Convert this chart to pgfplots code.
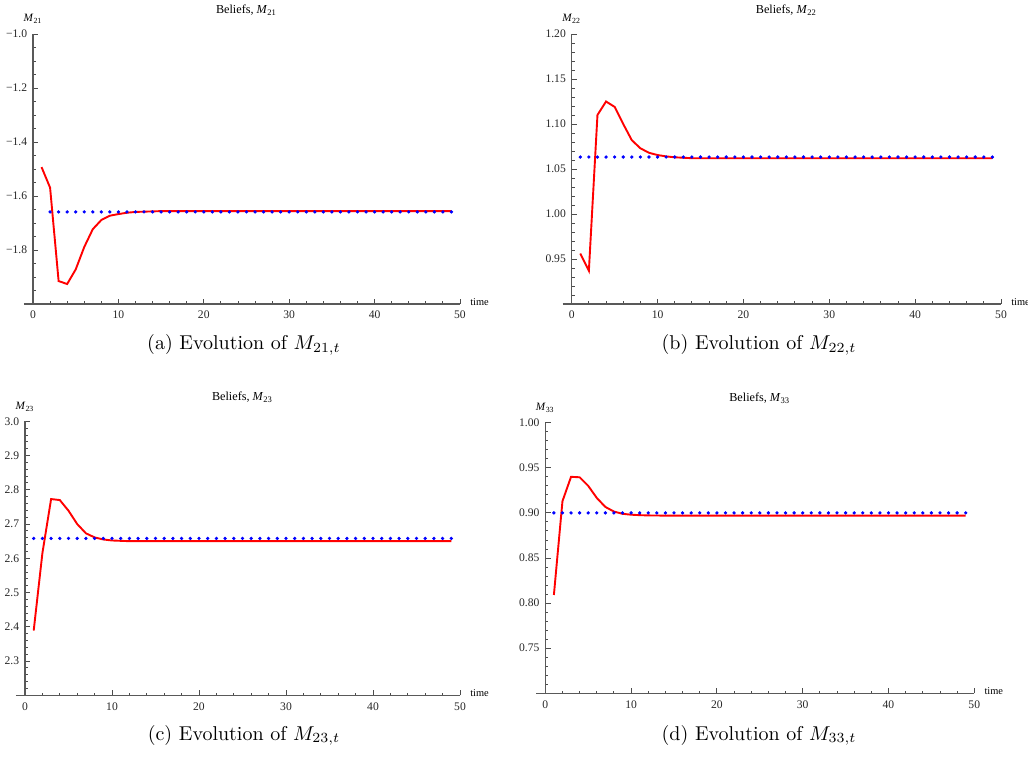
\documentclass[border=0pt]{standalone}
\usepackage{fontspec}
\usepackage{pgfplots}
\usepackage{pgfplotstable}
\pgfplotsset{compat=1.18}
\newfontfamily\tms{Liberation Serif}

\pgfplotstableread{
t m b
1 -1.493 nan
2 -1.569 -1.659
3 -1.915 -1.659
4 -1.926 -1.659
5 -1.872 -1.659
6 -1.789 -1.659
7 -1.723 -1.659
8 -1.689 -1.659
9 -1.673 -1.659
10 -1.667 -1.659
11 -1.662 -1.659
12 -1.659 -1.659
13 -1.658 -1.659
14 -1.657 -1.659
15 -1.656 -1.659
16 -1.656 -1.659
17 -1.656 -1.659
18 -1.656 -1.659
19 -1.656 -1.659
20 -1.656 -1.659
21 -1.656 -1.659
22 -1.656 -1.659
23 -1.656 -1.659
24 -1.656 -1.659
25 -1.656 -1.659
26 -1.656 -1.659
27 -1.656 -1.659
28 -1.656 -1.659
29 -1.656 -1.659
30 -1.656 -1.659
31 -1.656 -1.659
32 -1.656 -1.659
33 -1.656 -1.659
34 -1.656 -1.659
35 -1.656 -1.659
36 -1.656 -1.659
37 -1.656 -1.659
38 -1.656 -1.659
39 -1.656 -1.659
40 -1.656 -1.659
41 -1.656 -1.659
42 -1.656 -1.659
43 -1.656 -1.659
44 -1.656 -1.659
45 -1.656 -1.659
46 -1.656 -1.659
47 -1.656 -1.659
48 -1.656 -1.659
49 -1.656 -1.659
}\ta

\pgfplotstableread{
t m b
1 0.956 1.0633
2 0.937 1.0633
3 1.110 1.0633
4 1.125 1.0633
5 1.119 1.0633
6 1.100 1.0633
7 1.082 1.0633
8 1.073 1.0633
9 1.068 1.0633
10 1.0655 1.0633
11 1.064 1.0633
12 1.063 1.0633
13 1.0625 1.0633
14 1.0620 1.0633
15 1.0619 1.0633
16 1.0619 1.0633
17 1.0619 1.0633
18 1.0619 1.0633
19 1.0619 1.0633
20 1.0619 1.0633
21 1.0619 1.0633
22 1.0619 1.0633
23 1.0619 1.0633
24 1.0619 1.0633
25 1.0619 1.0633
26 1.0619 1.0633
27 1.0619 1.0633
28 1.0619 1.0633
29 1.0619 1.0633
30 1.0619 1.0633
31 1.0619 1.0633
32 1.0619 1.0633
33 1.0619 1.0633
34 1.0619 1.0633
35 1.0619 1.0633
36 1.0619 1.0633
37 1.0619 1.0633
38 1.0619 1.0633
39 1.0619 1.0633
40 1.0619 1.0633
41 1.0619 1.0633
42 1.0619 1.0633
43 1.0619 1.0633
44 1.0619 1.0633
45 1.0619 1.0633
46 1.0619 1.0633
47 1.0619 1.0633
48 1.0619 1.0633
49 1.0619 1.0633
}\tb

\pgfplotstableread{
t m b
1 2.389 2.658
2 2.615 2.658
3 2.773 2.658
4 2.770 2.658
5 2.739 2.658
6 2.700 2.658
7 2.673 2.658
8 2.661 2.658
9 2.655 2.658
10 2.652 2.658
11 2.651 2.658
12 2.650 2.658
13 2.650 2.658
14 2.650 2.658
15 2.650 2.658
16 2.650 2.658
17 2.650 2.658
18 2.650 2.658
19 2.650 2.658
20 2.650 2.658
21 2.650 2.658
22 2.650 2.658
23 2.650 2.658
24 2.650 2.658
25 2.650 2.658
26 2.650 2.658
27 2.650 2.658
28 2.650 2.658
29 2.650 2.658
30 2.650 2.658
31 2.650 2.658
32 2.650 2.658
33 2.650 2.658
34 2.650 2.658
35 2.650 2.658
36 2.650 2.658
37 2.650 2.658
38 2.650 2.658
39 2.650 2.658
40 2.650 2.658
41 2.650 2.658
42 2.650 2.658
43 2.650 2.658
44 2.650 2.658
45 2.650 2.658
46 2.650 2.658
47 2.650 2.658
48 2.650 2.658
49 2.650 2.658
}\tc

\pgfplotstableread{
t m b
1 0.809 0.900
2 0.913 0.900
3 0.940 0.900
4 0.9395 0.900
5 0.930 0.900
6 0.9166 0.900
7 0.9066 0.900
8 0.9015 0.900
9 0.899 0.900
10 0.898 0.900
11 0.8975 0.900
12 0.8972 0.900
13 0.8971 0.900
14 0.8970 0.900
15 0.8970 0.900
16 0.8970 0.900
17 0.8970 0.900
18 0.8970 0.900
19 0.8970 0.900
20 0.8970 0.900
21 0.8970 0.900
22 0.8970 0.900
23 0.8970 0.900
24 0.8970 0.900
25 0.8970 0.900
26 0.8970 0.900
27 0.8970 0.900
28 0.8970 0.900
29 0.8970 0.900
30 0.8970 0.900
31 0.8970 0.900
32 0.8970 0.900
33 0.8970 0.900
34 0.8970 0.900
35 0.8970 0.900
36 0.8970 0.900
37 0.8970 0.900
38 0.8970 0.900
39 0.8970 0.900
40 0.8970 0.900
41 0.8970 0.900
42 0.8970 0.900
43 0.8970 0.900
44 0.8970 0.900
45 0.8970 0.900
46 0.8970 0.900
47 0.8970 0.900
48 0.8970 0.900
49 0.8970 0.900
}\td

\pgfplotsset{
  mma/.style={
    scale only axis,
    anchor=south west,
    axis x line*=bottom, axis y line*=left,
    axis line style={draw=black!65, line width=0.7pt},
    x axis line style={shorten <=-4.5pt},
    tick align=inside,
    major tick length=2.6pt, minor tick length=1.4pt,
    every tick/.style={draw=black!70, line width=0.45pt},
    xmin=0, xmax=50,
    xtick={0,10,20,30,40,50},
    xticklabels={0,10,20,30,40,50},
    minor x tick num=4,
    ticklabel style={font=\tms\fontsize{5.8}{6}\selectfont, text=black!85},
    xticklabel style={yshift=0pt},
    yticklabel style={xshift=0.6pt},
    xlabel={time},
    every axis x label/.style={at={(axis description cs:1,0)}, anchor=west, xshift=1.6pt, yshift=1pt,
      font=\tms\fontsize{5.2}{6}\selectfont},
    every axis y label/.style={at={(axis description cs:0,1)}, anchor=south, yshift=1.5pt,
      font=\tms\fontsize{5.6}{6}\selectfont},
    every axis title/.style={at={(axis description cs:0.5,1)}, anchor=center, yshift=12pt,
      font=\tms\fontsize{6.1}{7}\selectfont},
    clip=false,
  },
  redl/.style={draw=red, line width=0.95pt, no markers},
  bluep/.style={blue, only marks, mark=*, mark size=0.62pt, mark options={draw=none, fill=blue}},
}

\begin{document}
\begin{tikzpicture}
\useasboundingbox (0,0) rectangle (514pt,383pt);

% (a)
\begin{axis}[mma, at={(16.5pt,231pt)}, width=213.5pt, height=135pt,
  ymin=-2, ymax=-1,
  ytick={-2,-1.8,-1.6,-1.4,-1.2,-1},
  yticklabels={{},{−1.8},{−1.6},{−1.4},{−1.2},{−1.0}},
  minor y tick num=3,
  title={Beliefs, \textit{M}\textsubscript{21}},
  ylabel={\textit{M}\textsubscript{21}}]
\addplot[bluep] table[x=t,y=b]{\ta};
\addplot[redl] table[x=t,y=m]{\ta};
\end{axis}

% (b)
\begin{axis}[mma, at={(285.85pt,231pt)}, width=214.65pt, height=135pt,
  ymin=0.9, ymax=1.2,
  ytick={0.9,0.95,1.0,1.05,1.1,1.15,1.2},
  yticklabels={{},0.95,1.00,1.05,1.10,1.15,1.20},
  minor y tick num=4,
  title={Beliefs, \textit{M}\textsubscript{22}},
  ylabel={\textit{M}\textsubscript{22}}]
\addplot[bluep] table[x=t,y=b]{\tb};
\addplot[redl] table[x=t,y=m]{\tb};
\end{axis}

% (c)
\begin{axis}[mma, at={(12.5pt,35.35pt)}, width=217.5pt, height=137pt,
  ymin=2.2, ymax=3.0,
  ytick={2.2,2.3,2.4,2.5,2.6,2.7,2.8,2.9,3.0},
  yticklabels={{},2.3,2.4,2.5,2.6,2.7,2.8,2.9,3.0},
  minor y tick num=4,
  title={Beliefs, \textit{M}\textsubscript{23}},
  ylabel={\textit{M}\textsubscript{23}}]
\addplot[bluep] table[x=t,y=b]{\tc};
\addplot[redl] table[x=t,y=m]{\tc};
\end{axis}

% (d)
\begin{axis}[mma, at={(272.65pt,36.35pt)}, width=214.5pt, height=135.3pt,
  ymin=0.7, ymax=1.0,
  ytick={0.7,0.75,0.8,0.85,0.9,0.95,1.0},
  yticklabels={{},0.75,0.80,0.85,0.90,0.95,1.00},
  minor y tick num=4,
  title={Beliefs, \textit{M}\textsubscript{33}},
  ylabel={\textit{M}\textsubscript{33}}]
\addplot[bluep] table[x=t,y=b]{\td};
\addplot[redl] table[x=t,y=m]{\td};
\end{axis}

\node[anchor=base] at (122pt,208pt) {(a) Evolution of $M_{21,t}$};
\node[anchor=base] at (379.5pt,208pt) {(b) Evolution of $M_{22,t}$};
\node[anchor=base] at (122pt,13pt) {(c) Evolution of $M_{23,t}$};
\node[anchor=base] at (379.5pt,13pt) {(d) Evolution of $M_{33,t}$};
\end{tikzpicture}
\end{document}
